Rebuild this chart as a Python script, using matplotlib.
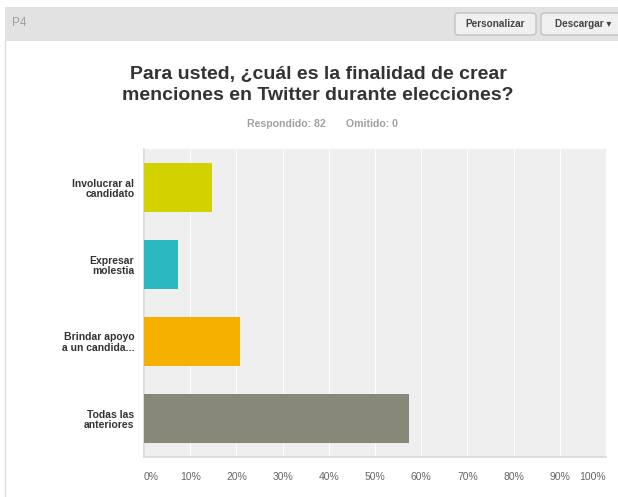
import numpy as np
import matplotlib
matplotlib.use("Agg")
import matplotlib.pyplot as plt
from matplotlib.patches import Rectangle, FancyBboxPatch

plt.rcParams['font.family'] = ['Liberation Sans', 'DejaVu Sans']

# DATA
categorias = ["Involucrar al\ncandidato", "Expresar\nmolestia",
              "Brindar apoyo\na un candida...", "Todas las\nanteriores"]
respuestas = [12, 6, 17, 47]
total = 82
porcentajes = [r / total * 100 for r in respuestas]
colores = ["#d2d200", "#2bb8c0", "#f6b000", "#878878"]
ticks_x = [0, 10, 20, 30, 40, 50, 60, 70, 80, 90, 100]

W, H = 618, 497
fig = plt.figure(figsize=(W / 100, H / 100), dpi=100)
fig.patch.set_facecolor("white")

def px(x, y):
    # pixel (top-left origin) -> figure coords
    return x / W, 1 - y / H

# HEADER
x0, y0 = px(5, 41)
fig.patches.append(Rectangle((x0, y0), 1 - x0, 34 / H, transform=fig.transFigure,
                             facecolor="#e2e2e2", edgecolor="none", zorder=0))
fig.add_artist(plt.Line2D([5 / W, 5 / W], [0, y0], transform=fig.transFigure,
                          color="#dddddd", lw=1))
fig.text(*px(12, 23), "P4", color="#a0a0a0", fontsize=8.5, va="center")

def boton(xa, xb, texto):
    a = px(xa, 35)
    fig.patches.append(FancyBboxPatch(a, (xb - xa) / W, 22 / H,
                                      boxstyle="round,pad=0,rounding_size=0.006",
                                      transform=fig.transFigure, facecolor="#f0f0f0",
                                      edgecolor="#b8b8b8", lw=0.8))
    fig.text((xa + xb) / 2 / W, 1 - 24 / H, texto, color="#444444", fontsize=7.2,
             fontweight="bold", ha="center", va="center")

boton(455, 536, "Personalizar")
boton(541, 625, "Descargar \u25be")

# TITULO
fig.text(*px(318, 85), "Para usted, ¿cuál es la finalidad de crear\nmenciones en Twitter durante elecciones?",
         ha="center", va="center", fontsize=14, fontweight="bold", color="#333333",
         linespacing=1.3)
fig.text(*px(326, 124), "Respondido: 82", ha="right", va="center",
         fontsize=7.6, fontweight="bold", color="#a0a0a0")
fig.text(*px(346, 124), "Omitido: 0", ha="left", va="center",
         fontsize=7.6, fontweight="bold", color="#a0a0a0")

# GRAFICO
ax = fig.add_axes([144 / W, 40 / H, 462 / W, 308 / H])
ax.set_facecolor("#efefef")
y = np.arange(len(categorias))
ax.barh(y, porcentajes, height=0.625, color=colores, zorder=3)
ax.set_xlim(0, 100)
ax.set_ylim(len(categorias) - 0.5, -0.5)
ax.set_xticks(ticks_x)
ax.set_xticklabels([f"{t}%" for t in ticks_x], fontsize=7.5, color="#666666")
labs = ax.get_xticklabels()
labs[0].set_ha("left")
labs[-1].set_ha("right")
ax.grid(axis="x", color="white", lw=0.8, zorder=1)
ax.set_yticks(y)
ax.set_yticklabels(categorias, fontsize=7.5, fontweight="bold", color="#333333",
                   linespacing=1.05)
ax.tick_params(axis="both", length=0)
ax.tick_params(axis="x", pad=11)
ax.tick_params(axis="y", pad=7)
for s in ["top", "right"]:
    ax.spines[s].set_visible(False)
for s in ["left", "bottom"]:
    ax.spines[s].set_color("#d8d8d8")
    ax.spines[s].set_linewidth(1.2)

fig.savefig("out.png", dpi=100)
